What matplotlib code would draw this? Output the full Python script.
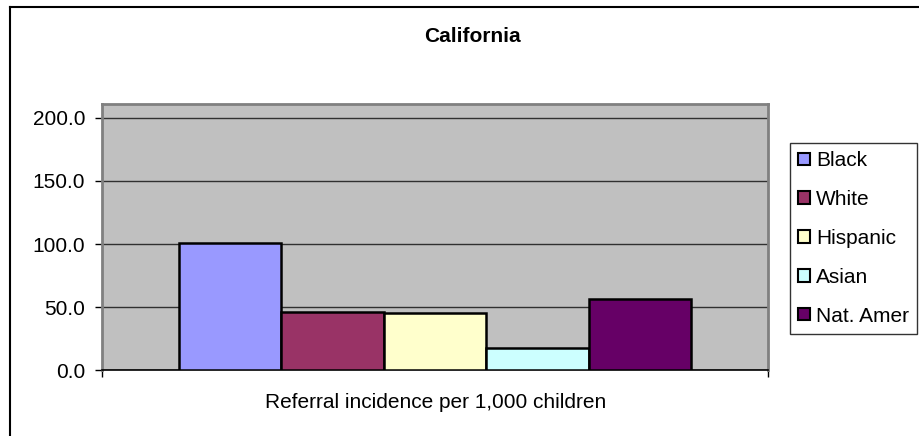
import matplotlib
matplotlib.use("Agg")
import matplotlib.pyplot as plt
from matplotlib.patches import Patch
from matplotlib.lines import Line2D

plt.rcParams['font.family'] = ['Liberation Sans', 'DejaVu Sans']

# data
groups = ["Black", "White", "Hispanic", "Asian", "Nat. Amer"]
values = [100.5, 45.8, 45.6, 17.9, 56.6]
colors = ["#9999FF", "#993366", "#FFFFCC", "#CCFFFF", "#660066"]
yticks = [0, 50, 100, 150, 200]
title = "California"
xlabel = "Referral incidence per 1,000 children"

W, H = 919, 436
FS = 15
fig = plt.figure(figsize=(W / 100, H / 100), dpi=100)

# plot area in pixel coords (left, top, right, bottom)
L, T, R, B = 102, 104, 768, 370.3
ax = fig.add_axes([L / W, 1 - B / H, (R - L) / W, (B - T) / H])
ax.set_facecolor("#C0C0C0")

n = len(groups)
pos = [i - (n - 1) / 2 for i in range(n)]
for p, v, c in zip(pos, values, colors):
    ax.bar(p, v, width=1.0, color=c, edgecolor="black", linewidth=1.8, zorder=3)

ax.set_xlim(-3.25, 3.25)
ax.set_ylim(0, 211)
ax.set_yticks(yticks)
ax.set_yticklabels([f"{t:.1f}" for t in yticks], fontsize=FS)
ax.set_xticks([-3.25, 3.25])
ax.set_xticklabels(["", ""])
ax.tick_params(axis="both", direction="out", length=5, width=1, color="black", pad=7)
ax.yaxis.grid(True, color="#303030", linewidth=1)
ax.set_axisbelow(True)

for side in ["top", "right", "left"]:
    ax.spines[side].set_color("#808080")
    ax.spines[side].set_linewidth(2)
ax.spines["bottom"].set_color("black")
ax.spines["bottom"].set_linewidth(1.2)

fig.text(472 / W, 1 - 37 / H, title, ha="center", va="center", fontsize=FS, fontweight="bold")
fig.text(436 / W, 1 - 402 / H, xlabel, ha="center", va="center", fontsize=FS)

handles = [Patch(facecolor=c, edgecolor="black", linewidth=1.5) for c in colors]
leg = fig.legend(handles, groups, loc="upper left",
                 bbox_to_anchor=(790 / W, 1 - 143 / H), fontsize=FS,
                 frameon=True, fancybox=False, edgecolor="black",
                 handlelength=0.55, handleheight=0.55, handletextpad=0.3,
                 labelspacing=0.95, borderpad=0.4, borderaxespad=0)
leg.get_frame().set_linewidth(1)

# chart outer border (only left and top edges visible)
fig.add_artist(Line2D([9.5 / W, 9.5 / W], [0, 1 - 7 / H], color="black", linewidth=1.5,
                      transform=fig.transFigure))
fig.add_artist(Line2D([9.5 / W, 1], [1 - 7 / H, 1 - 7 / H], color="black", linewidth=1.5,
                      transform=fig.transFigure))

fig.savefig("out.png", dpi=100)
